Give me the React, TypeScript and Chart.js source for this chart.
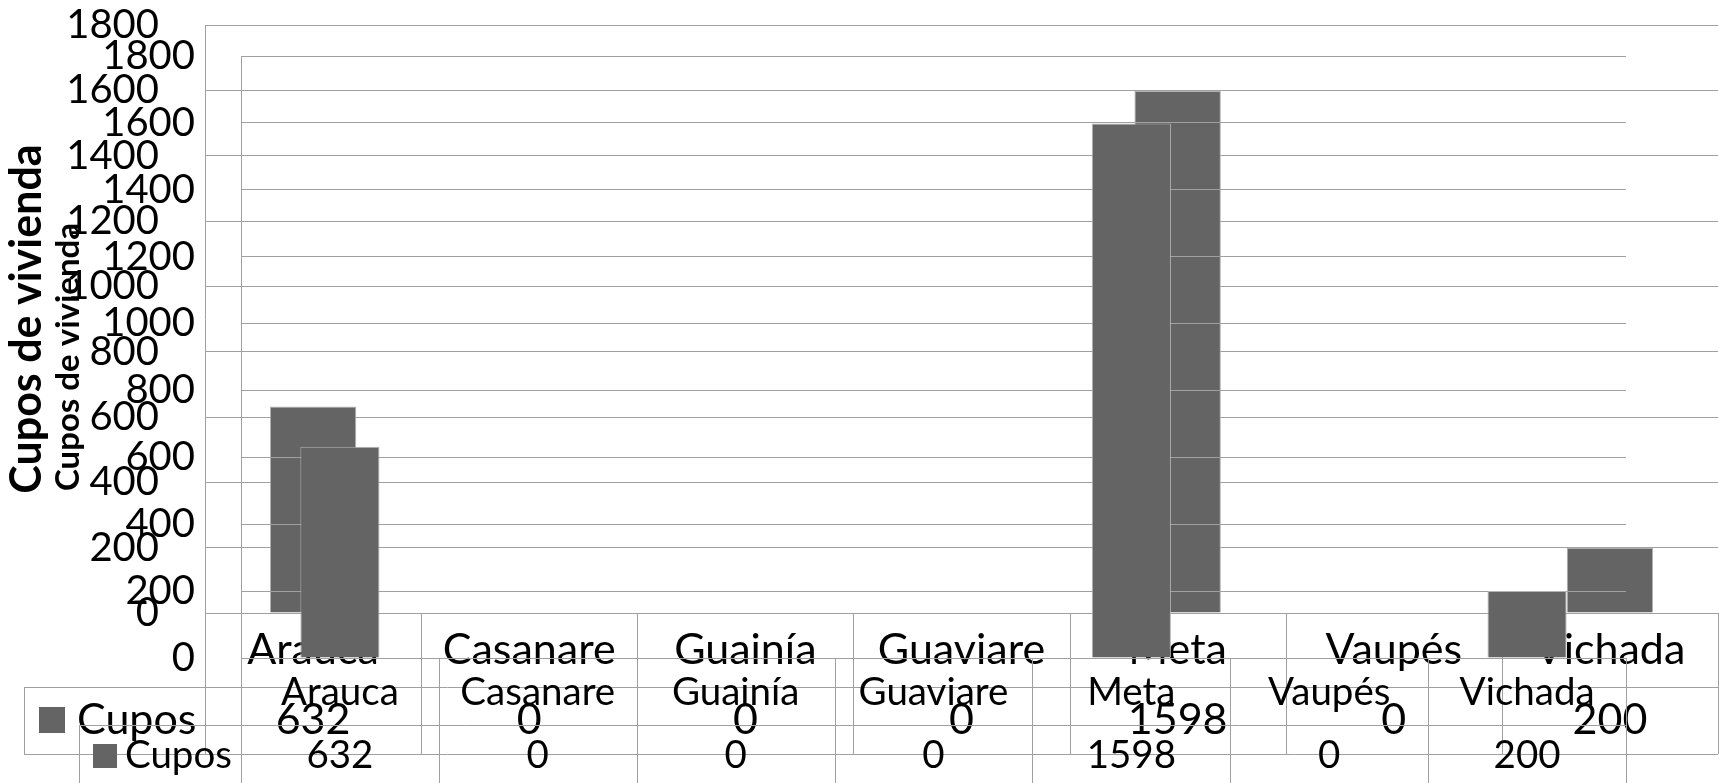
import React, { useEffect, useRef } from 'react';
import { Chart, registerables } from 'chart.js';

Chart.register(...registerables);

// ---- data ----
const categories = ['Arauca', 'Casanare', 'Guainía', 'Guaviare', 'Meta', 'Vaupés', 'Vichada'];
const cupos = [632, 0, 0, 0, 1598, 0, 200];
const seriesName = 'Cupos';
const axisTitle = 'Cupos de vivienda';
const yMin = 0;
const yMax = 1800;
const yStep = 200;

// ---- styles ----
const W = 1719;
const H = 783;
const FONT = 'Lato, "Open Sans", sans-serif';
const LINE = '#a0a0a0';
const BAR = '#646464';
const BAR_EDGE = '#b4b4b4';

type Layout = {
  area: { left: number; top: number; right: number; bottom: number };
  tickSize: number;
  tickPad: number;
  titleSize: number;
  titlePad: number;
  tableSize: number;
  labelPad: number;
  catRowBottom: number;
  dataRowBottom: number;
  dataMid: number;
  legendLeft: number;
  sq: { x: number; y: number; size: number };
  legendTextX: number;
};

const layoutA: Layout = {
  area: { left: 205, top: 25, right: 1718, bottom: 613 },
  tickSize: 40,
  tickPad: 46,
  titleSize: 43,
  titlePad: 1,
  tableSize: 43,
  labelPad: 11,
  catRowBottom: 687,
  dataRowBottom: 754,
  dataMid: 720,
  legendLeft: 24,
  sq: { x: 39, y: 707, size: 26 },
  legendTextX: 77,
};

const layoutB: Layout = {
  area: { left: 241, top: 56, right: 1626, bottom: 658 },
  tickSize: 40,
  tickPad: 46,
  titleSize: 33,
  titlePad: 49,
  tableSize: 38.5,
  labelPad: 11,
  catRowBottom: 725,
  dataRowBottom: 800,
  dataMid: 756,
  legendLeft: 79,
  sq: { x: 93, y: 744, size: 24 },
  legendTextX: 125,
};

const makeTablePlugin = (L: Layout) => ({
  id: 'dataTable',
  afterDraw(chart: any) {
    const { ctx, chartArea: a, scales } = chart;
    const x = scales.x;
    const n = categories.length;
    const cw = (a.right - a.left) / n;
    const px = (v: number) => Math.round(v) + 0.5;
    ctx.save();
    ctx.strokeStyle = LINE;
    ctx.lineWidth = 1;
    ctx.beginPath();
    [L.catRowBottom, L.dataRowBottom].forEach((y) => {
      ctx.moveTo(L.legendLeft, px(y));
      ctx.lineTo(a.right, px(y));
    });
    for (let i = 0; i <= n; i++) {
      const xx = i < n ? x.getPixelForValue(i) - cw / 2 : x.getPixelForValue(n - 1) + cw / 2;
      ctx.moveTo(px(xx), a.bottom);
      ctx.lineTo(px(xx), L.dataRowBottom);
    }
    ctx.moveTo(px(L.legendLeft), px(L.catRowBottom));
    ctx.lineTo(px(L.legendLeft), px(L.dataRowBottom));
    ctx.stroke();

    ctx.fillStyle = BAR;
    ctx.fillRect(L.sq.x, L.sq.y, L.sq.size, L.sq.size);
    ctx.fillStyle = '#000';
    ctx.font = `${L.tableSize}px ${FONT}`;
    ctx.textBaseline = 'middle';
    ctx.textAlign = 'left';
    ctx.fillText(seriesName, L.legendTextX, L.dataMid);
    ctx.textAlign = 'center';
    cupos.forEach((v, i) => ctx.fillText(String(v), x.getPixelForValue(i), L.dataMid));
    ctx.restore();
  },
});

const makeConfig = (L: Layout): any => ({
  type: 'bar',
  data: {
    labels: categories,
    datasets: [
      {
        label: seriesName,
        data: cupos,
        backgroundColor: BAR,
        borderColor: (c: any) => (cupos[c.dataIndex] ? BAR_EDGE : 'rgba(0,0,0,0)'),
        borderWidth: 1,
        barPercentage: 0.4,
        categoryPercentage: 1,
      },
    ],
  },
  options: {
    responsive: false,
    animation: false,
    devicePixelRatio: 1,
    layout: { padding: { left: 0, top: L.area.top, right: W - L.area.right, bottom: 0 } },
    plugins: { legend: { display: false }, tooltip: { enabled: false }, title: { display: false } },
    scales: {
      x: {
        grid: { display: false, drawTicks: false },
        border: { display: true, color: LINE, width: 1 },
        ticks: {
          font: { family: FONT, size: L.tableSize },
          color: '#000',
          padding: L.labelPad,
          autoSkip: false,
          maxRotation: 0,
          minRotation: 0,
        },
        afterFit: (s: any) => {
          s.height = H - L.area.bottom;
          s.paddingLeft = 0;
          s.paddingRight = 0;
          s.paddingTop = 0;
          s.paddingBottom = 0;
        },
      },
      y: {
        min: yMin,
        max: yMax,
        ticks: {
          stepSize: yStep,
          font: { family: FONT, size: L.tickSize },
          color: '#000',
          padding: L.tickPad,
          callback: (v: any) => String(v),
        },
        grid: { color: LINE, drawTicks: false, lineWidth: 1 },
        border: { display: true, color: LINE, width: 1 },
        title: {
          display: true,
          text: axisTitle,
          color: '#000',
          font: { family: FONT, size: L.titleSize, weight: 'bold' },
          padding: { top: L.titlePad, bottom: 0 },
        },
        afterFit: (s: any) => {
          s.width = L.area.left;
          s.paddingTop = 0;
          s.paddingBottom = 0;
          s.paddingLeft = 0;
          s.paddingRight = 0;
        },
      },
    },
  },
  plugins: [makeTablePlugin(L)],
});

export default function App() {
  const refA = useRef<HTMLCanvasElement>(null);
  const refB = useRef<HTMLCanvasElement>(null);
  useEffect(() => {
    const a = new Chart(refA.current as HTMLCanvasElement, makeConfig(layoutA));
    const b = new Chart(refB.current as HTMLCanvasElement, makeConfig(layoutB));
    return () => {
      a.destroy();
      b.destroy();
    };
  }, []);
  const st: React.CSSProperties = { position: 'absolute', left: 0, top: 0, width: W, height: H };
  return (
    <div style={{ position: 'absolute', left: 0, top: 0, width: W, height: H, background: '#fff', overflow: 'hidden' }}>
      <canvas ref={refA} width={W} height={H} style={st} />
      <canvas ref={refB} width={W} height={H} style={st} />
    </div>
  );
}
